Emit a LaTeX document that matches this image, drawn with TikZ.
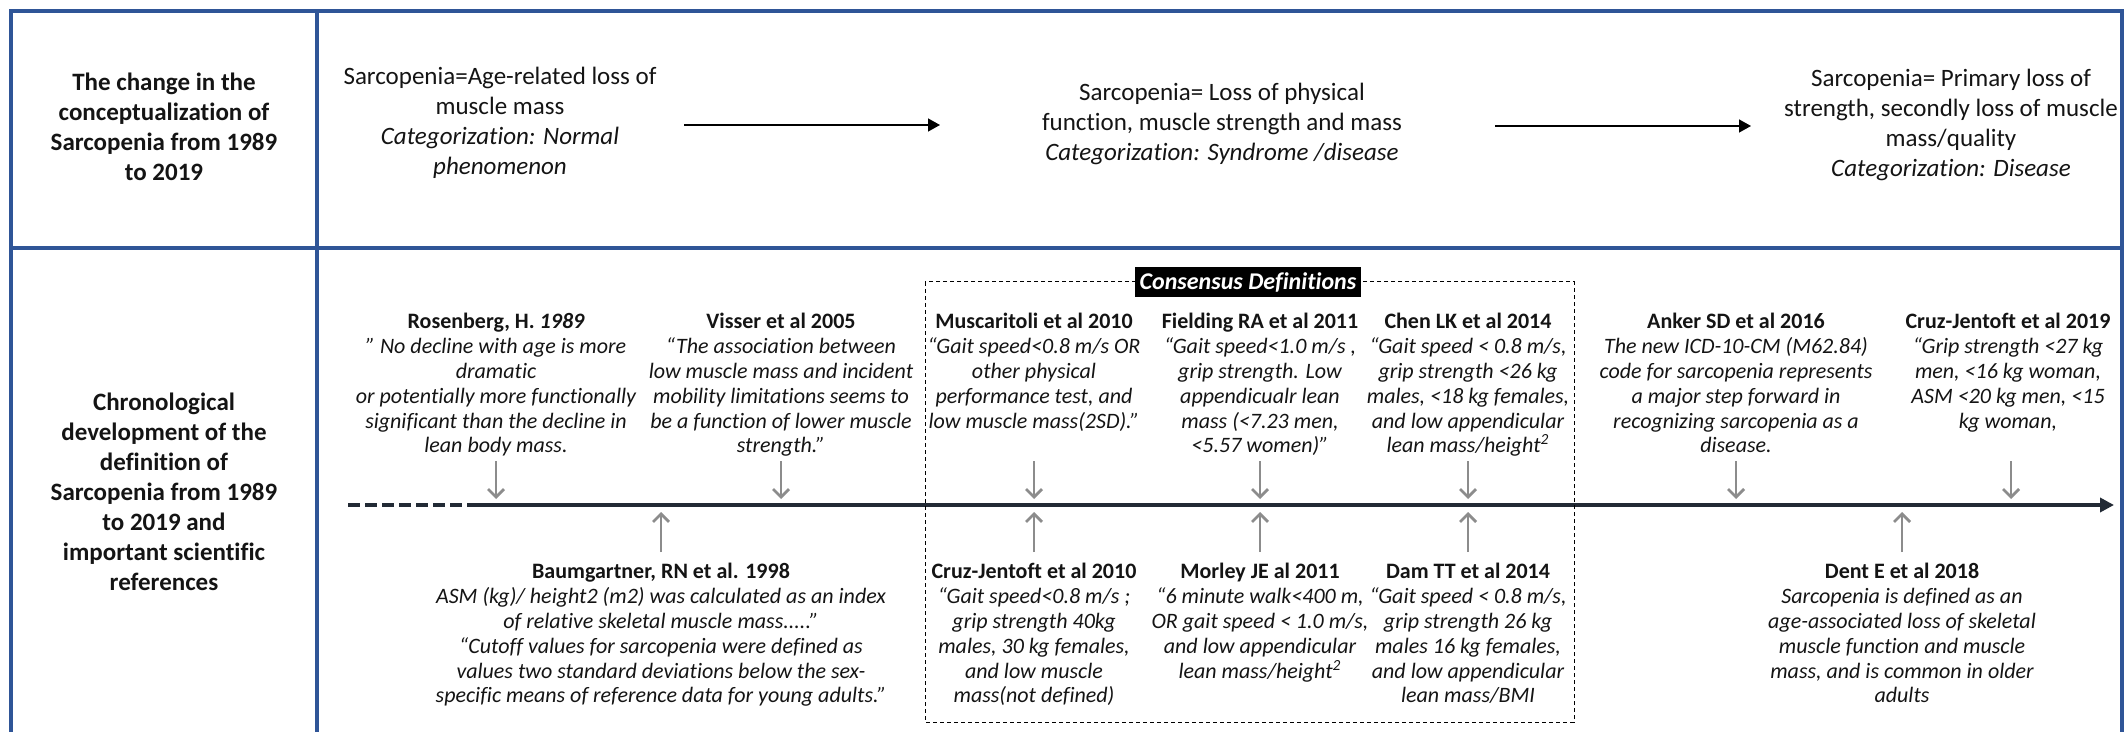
\documentclass[tikz,border=0pt]{standalone}
\usepackage{fontspec}
\setmainfont{Carlito}[Ligatures=NoCommon]
\usetikzlibrary{arrows.meta}

\definecolor{frameblue}{RGB}{47,85,151}
\definecolor{linenavy}{RGB}{34,42,53}
\definecolor{arrowgray}{RGB}{140,140,140}
\definecolor{textdark}{RGB}{20,20,20}

\newcommand{\refhead}[1]{{\upshape\bfseries #1}}

\tikzset{
  frame/.style={draw=frameblue, line width=2pt},
  rowtitle/.style={font=\fontsize{12.5}{15}\selectfont\bfseries, align=center, text=textdark},
  concept/.style={font=\fontsize{12.5}{15}\selectfont, align=center, text=textdark},
  conceptarrow/.style={line width=0.7pt, -{Triangle[length=6pt,width=6.5pt]}},
  timeline/.style={draw=linenavy, line width=2pt},
  refnote/.style={font=\fontsize{11}{12.4}\selectfont\itshape, align=center, inner sep=0pt, text=textdark},
  refarrow/.style={draw=arrowgray, line width=1.4pt, -{Straight Barb[length=4pt,width=8pt]}},
  consensus/.style={draw, line width=0.5pt, dash pattern=on 2pt off 1.5pt},
  conslabel/.style={fill=black, text=white, font=\fontsize{12}{14}\selectfont\bfseries\itshape, inner sep=2.5pt}
}

\begin{document}
\begin{tikzpicture}[x=0.5pt,y=-0.5pt]
    \useasboundingbox (0,0) rectangle (2125,732);

    % table frame
    \draw[frame] (11,740) -- (11,11) -- (2122,11) -- (2122,740);
    \draw[frame] (11,248) -- (2122,248);
    \draw[frame] (317,11) -- (317,740);

    % first row: concept of sarcopenia
    \node[rowtitle] (chgtitle) at (164,127) {The change in the\\conceptualization of\\Sarcopenia from 1989\\to 2019};
    \node[concept] (def1989) at (500,123) {Sarcopenia=Age-related loss of\\muscle mass\\\textit{Categorization: Normal}\\\textit{phenomenon}};
    \node[concept] (def2010) at (1222,124) {Sarcopenia= Loss of physical\\function, muscle strength and mass\\\textit{Categorization: Syndrome /disease}};
    \node[concept] (def2019) at (1951,125) {Sarcopenia= Primary loss of\\strength, secondly loss of muscle\\mass/quality\\\textit{Categorization: Disease}};

    \coordinate (c1s) at (684,125);
    \coordinate (c1e) at (940,125);
    \coordinate (c2s) at (1495,126);
    \coordinate (c2e) at (1751,126);
    \draw[conceptarrow] (c1s) -- (c1e);
    \draw[conceptarrow] (c2s) -- (c2e);

    % second row: timeline
    \node[rowtitle] (chrontitle) at (164,492) {Chronological\\development of the\\definition of\\Sarcopenia from 1989\\to 2019 and\\important scientific\\references};

    \coordinate (tlstart) at (348,505);
    \coordinate (tlsolid) at (476,505);
    \coordinate (tlend) at (2114,505);
    \draw[timeline, dash pattern=on 6pt off 2.5pt] (tlstart) -- (tlsolid);
    \draw[timeline, -{Triangle[length=7pt,width=7pt]}] (tlsolid) -- (tlend);

    \draw[consensus] (925,282) rectangle (1574,722);
    \node[conslabel] (conslbl) at (1248,282) {Consensus Definitions};

    % references above the line
    \node[refnote, anchor=north] (ros) at (496,313) {\refhead{Rosenberg, H. \itshape 1989}\\” No decline with age is more\\dramatic\\or potentially more functionally\\significant than the decline in\\lean body mass.};
    \node[refnote, anchor=north] (vis) at (781,313) {\refhead{Visser et al 2005}\\“The association between\\low muscle mass and incident\\mobility limitations seems to\\be a function of lower muscle\\strength.”};
    \node[refnote, anchor=north] (mus) at (1034,313) {\refhead{Muscaritoli et al 2010}\\“Gait speed<0.8 m/s OR\\other physical\\performance test, and\\low muscle mass(2SD).”};
    \node[refnote, anchor=north] (fie) at (1260,313) {\refhead{Fielding RA et al 2011}\\“Gait speed<1.0 m/s ,\\grip strength. Low\\appendicualr lean\\mass (<7.23 men,\\<5.57 women)”};
    \node[refnote, anchor=north] (chen) at (1468,313) {\refhead{Chen LK et al 2014}\\“Gait speed < 0.8 m/s,\\grip strength <26 kg\\males, <18 kg females,\\and low appendicular\\lean mass/height\textsuperscript{2}};
    \node[refnote, anchor=north] (ank) at (1736,313) {\refhead{Anker SD et al 2016}\\The new ICD-10-CM (M62.84)\\code for sarcopenia represents\\a major step forward in\\recognizing sarcopenia as a\\disease.};
    \node[refnote, anchor=north] (cruzb) at (2008,313) {\refhead{Cruz-Jentoft et al 2019}\\“Grip strength <27 kg\\men, <16 kg woman,\\ASM <20 kg men, <15\\kg woman,};

    % references below the line
    \node[refnote, anchor=north] (baum) at (661,563) {\refhead{Baumgartner, RN et al. 1998}\\ASM (kg)/ height2 (m2) was calculated as an index\\of relative skeletal muscle mass.....”\\“Cutoff values for sarcopenia were defined as\\values two standard deviations below the sex-\\specific means of reference data for young adults.”};
    \node[refnote, anchor=north] (cruza) at (1034,563) {\refhead{Cruz-Jentoft et al 2010}\\“Gait speed<0.8 m/s ;\\grip strength 40kg\\males, 30 kg females,\\and low muscle\\mass(not defined)};
    \node[refnote, anchor=north] (mor) at (1260,563) {\refhead{Morley JE al 2011}\\“6 minute walk<400 m,\\OR gait speed < 1.0 m/s,\\and low appendicular\\lean mass/height\textsuperscript{2}};
    \node[refnote, anchor=north] (dam) at (1468,563) {\refhead{Dam TT et al 2014}\\“Gait speed < 0.8 m/s,\\grip strength 26 kg\\males 16 kg females,\\and low appendicular\\lean mass/BMI};
    \node[refnote, anchor=north] (dent) at (1902,563) {\refhead{Dent E et al 2018}\\Sarcopenia is defined as an\\age-associated loss of skeletal\\muscle function and muscle\\mass, and is common in older\\adults};

    % pointers to the line
    \coordinate (dtop) at (0,461);
    \coordinate (dtip) at (0,499);
    \coordinate (ubot) at (0,552);
    \coordinate (utip) at (0,512);
    \foreach \r in {ros,vis,mus,fie,chen,ank}
        \draw[refarrow] (\r.north |- dtop) -- (\r.north |- dtip);
    \draw[refarrow] (2011,461) coordinate (cruzbtop) -- (cruzbtop |- dtip);
    \foreach \r in {baum,cruza,mor,dam,dent}
        \draw[refarrow] (\r.north |- ubot) -- (\r.north |- utip);
\end{tikzpicture}
\end{document}
